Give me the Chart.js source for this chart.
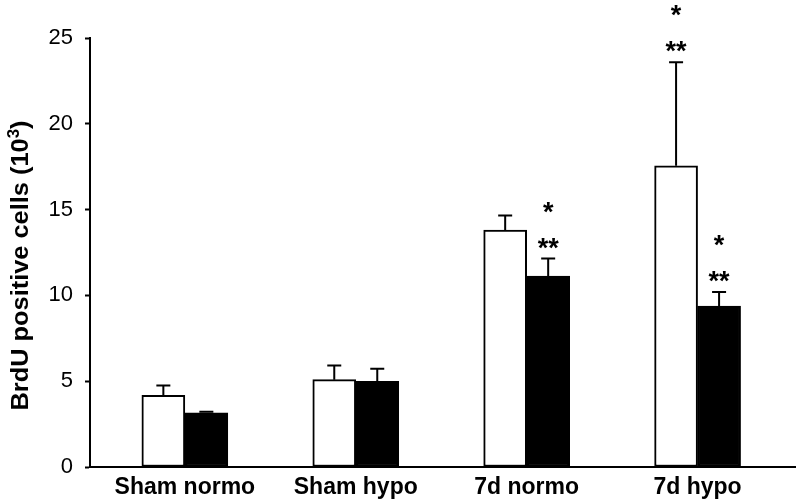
<!DOCTYPE html>
<html>
<head>
<meta charset="utf-8">
<script src="https://cdn.jsdelivr.net/npm/chart.js@4.4.1/dist/chart.umd.min.js"></script>
<style>
  html, body { margin: 0; padding: 0; background: #fff; }
  canvas { display: block; }
</style>
</head>
<body>
<canvas id="brduChart" width="800" height="501"></canvas>
<script>
const groups = ['Sham normo', 'Sham hypo', '7d normo', '7d hypo'];
const whiteMeans = [4.17, 5.09, 13.8, 17.55];
const whiteErrors = [0.58, 0.83, 0.86, 6.03];
const blackMeans = [3.16, 4.99, 11.13, 9.38];
const blackErrors = [0.06, 0.74, 1.02, 0.82];
const whiteStars = [[], [], [], ['*', '**']];
const blackStars = [[], [], ['*', '**'], ['*', '**']];
const yTicks = [0, 5, 10, 15, 20, 25];
const yTitle = ['BrdU positive cells (10', '3', ')'];

const errors = [whiteErrors, blackErrors];
const stars = [whiteStars, blackStars];
const FONT = 'Arial, "Liberation Sans", sans-serif';

Chart.defaults.font.family = FONT;
Chart.defaults.color = '#000';

// error bars (upper only) + significance asterisks
const errorBarPlugin = {
  id: 'errorBars',
  afterDatasetsDraw(chart) {
    const ctx = chart.ctx;
    const y = chart.scales.y;
    ctx.save();
    chart.data.datasets.forEach((ds, di) => {
      const meta = chart.getDatasetMeta(di);
      meta.data.forEach((bar, i) => {
        const top = y.getPixelForValue(ds.data[i].y + errors[di][i]);
        ctx.strokeStyle = '#000';
        ctx.lineWidth = 2;
        ctx.beginPath();
        ctx.moveTo(bar.x, bar.y);
        ctx.lineTo(bar.x, top);
        ctx.moveTo(bar.x - 7, top);
        ctx.lineTo(bar.x + 7, top);
        ctx.stroke();

        const marks = stars[di][i];
        if (marks.length) {
          ctx.fillStyle = '#000';
          ctx.font = 'bold 27px ' + FONT;
          ctx.textAlign = 'center';
          ctx.textBaseline = 'alphabetic';
          ctx.fillText(marks[1], bar.x, top - 2);
          ctx.fillText(marks[0], bar.x, top - 38);
        }
      });
    });
    ctx.restore();
  }
};

// y axis title, stretched along its length like the original figure
const yTitlePlugin = {
  id: 'yTitle',
  afterDraw(chart) {
    const ctx = chart.ctx;
    const area = chart.chartArea;
    const mainFont = 'bold 24px ' + FONT;
    const supFont = 'bold 16px ' + FONT;
    ctx.save();
    ctx.font = mainFont;
    const w1 = ctx.measureText(yTitle[0]).width;
    const w3 = ctx.measureText(yTitle[2]).width;
    ctx.font = supFont;
    const w2 = ctx.measureText(yTitle[1]).width;
    const total = w1 + w2 + w3;
    const stretch = 290 / total;
    ctx.translate(area.left - 62, (area.top + area.bottom) / 2 + 13);
    ctx.rotate(-Math.PI / 2);
    ctx.scale(stretch, 1);
    ctx.fillStyle = '#000';
    ctx.textAlign = 'left';
    ctx.textBaseline = 'alphabetic';
    let x = -total / 2;
    ctx.font = mainFont;
    ctx.fillText(yTitle[0], x, 0);
    x += w1;
    ctx.font = supFont;
    ctx.fillText(yTitle[1], x, -9);
    x += w2;
    ctx.font = mainFont;
    ctx.fillText(yTitle[2], x, 0);
    ctx.restore();
  }
};

new Chart(
  document.getElementById('brduChart'),
  {
    type: 'bar',

    data: {
      datasets: [{
        data: whiteMeans.map((v, i) => ({ x: i, y: v })),
        backgroundColor: '#fff',
        borderColor: '#000',
        borderWidth: 2,
        borderSkipped: false,
        barThickness: 43
      }, {
        data: blackMeans.map((v, i) => ({ x: i, y: v })),
        backgroundColor: '#000',
        borderColor: '#000',
        borderWidth: 2,
        borderSkipped: false,
        barThickness: 43
      }]
    },

    options: {
      responsive: false,
      animation: false,
      layout: { padding: { top: 38, right: 5, left: 0, bottom: 0 } },
      plugins: {
        legend: { display: false },
        tooltip: { enabled: false }
      },
      scales: {
        x: {
          type: 'linear',
          offset: false,
          min: -0.555,
          max: 3.57,
          afterBuildTicks: scale => {
            scale.ticks = groups.map((g, i) => ({ value: i }));
          },
          afterFit: scale => { scale.height = 34; },
          grid: { display: false, drawTicks: false, offset: false },
          border: { color: '#000', width: 2 },
          ticks: {
            padding: 7,
            autoSkip: false,
            maxRotation: 0,
            font: { size: 23, weight: 'bold' },
            callback: value => groups[value]
          }
        },
        y: {
          min: 0,
          max: 25,
          afterBuildTicks: scale => {
            scale.ticks = yTicks.map(v => ({ value: v }));
          },
          afterFit: scale => { scale.width = 90; },
          grid: {
            drawOnChartArea: false,
            drawTicks: true,
            tickLength: 5,
            tickWidth: 2,
            tickColor: '#000'
          },
          border: { color: '#000', width: 2 },
          ticks: {
            padding: 12,
            font: { size: 22 }
          }
        }
      }
    },

    plugins: [errorBarPlugin, yTitlePlugin]
  }
);
</script>
</body>
</html>
